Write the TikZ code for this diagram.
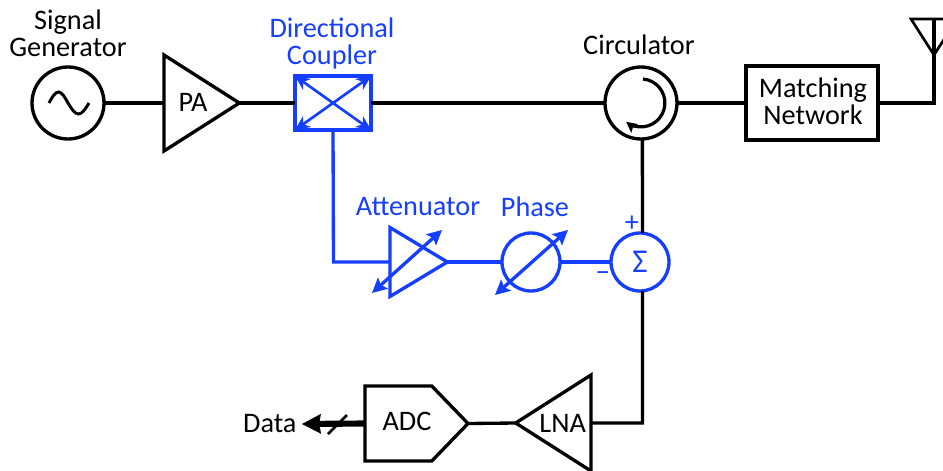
\documentclass[tikz,border=0pt]{standalone}
\usepackage{fontspec}
\setmainfont{Carlito}
\usepackage{tikz}
\usetikzlibrary{arrows.meta,shapes.geometric,shapes.symbols}
\definecolor{rfblue}{RGB}{22,62,255}
\begin{document}
\begin{tikzpicture}[x=0.75pt, y=-0.75pt,
    every node/.style={font=\fontsize{21.2}{20.2}\selectfont, align=center, inner sep=0pt, outer sep=0pt},
    wire/.style={line width=2.5pt},
    bwire/.style={wire, rfblue},
    lab/.style={text=black},
    blab/.style={text=rfblue},
    box/.style={draw, line width=2.5pt, rectangle},
    disc/.style={draw, line width=2.5pt, circle},
    amp/.style={draw, line width=2.5pt, isosceles triangle, isosceles triangle stretches, minimum width=72pt, minimum height=56.5pt},
    tune/.style={line width=2.5pt, rfblue, {Stealth[length=11pt,width=11pt,inset=2pt]}-{Stealth[length=11pt,width=11pt,inset=2pt]}},
    cross/.style={line width=2pt, rfblue, {Stealth[length=11pt,width=10pt,inset=3.5pt]}-{Stealth[length=11pt,width=10pt,inset=3.5pt]}}]
  \useasboundingbox (0,0) rectangle (943,471);
  \clip (0,0) rectangle (943,471);
  % top row
  \node[disc, minimum size=54pt] (osc) at (68,103) {};
  \draw[line width=2.2pt] (49,103) sin (58.5,92) cos (68,103) sin (78.5,114) cos (89,103);
  \node[amp, anchor=lower side, shape border rotate=0] (pa) at (164,103) {};
  \node[box, draw=rfblue, line width=2.6pt, minimum width=57pt, minimum height=40.5pt] (coupler) at (333,103) {};
  \node[disc, minimum size=54pt] (circ) at (641,103) {};
  \node[box, minimum width=99pt, minimum height=55.5pt] (match) at (812,103) {};
  \draw[wire] (osc.east) -- (pa.lower side);
  \draw[wire] (pa.apex) -- (coupler.west);
  \draw[wire] (coupler.east) -- (circ.west);
  \draw[wire] (circ.east) -- (match.west);
  \foreach \a/\b in {north west/south east, north east/south west}
    \draw[cross] (coupler.\a) -- (coupler.\b);
  \draw[line width=2.4pt, -{Stealth[length=8pt,width=8pt,inset=1.5pt]}] (643,79) arc[start angle=-85, end angle=128, radius=24];
  % antenna
  \coordinate (antfoot) at (934,103);
  \coordinate (anttop) at (934,19);
  \coordinate (antleft) at (911,19);
  \coordinate (antright) at (957,19);
  \coordinate (anttip) at (934,55);
  \draw[wire, line join=miter] (match.east) -- (antfoot) -- (anttop);
  \draw[line width=2pt] (antleft) -- (antright) -- (anttip) -- cycle;
  % cancellation path
  \node[amp, draw=rfblue, minimum width=51.75pt, minimum height=43pt, anchor=lower side, shape border rotate=0] (atten) at (390,262) {};
  \node[disc, draw=rfblue, minimum size=43.5pt] (phase) at (531,262) {};
  \node[disc, draw=rfblue, minimum size=43.5pt, text=rfblue, font=\fontsize{25}{25}\selectfont] (sum) at (640,262) {Σ};
  \coordinate (bend) at (333.5,262);
  \draw[bwire] (coupler.south) -- (bend) -- (atten.lower side);
  \draw[bwire] (atten.apex) -- (phase.west);
  \draw[bwire] (phase.east) -- (sum.west);
  \coordinate (atta) at (372,293);
  \coordinate (attb) at (442,230);
  \coordinate (pha) at (495,295);
  \coordinate (phb) at (568,230);
  \draw[tune] (atta) -- (attb);
  \draw[tune] (pha) -- (phb);
  % receive path
  \node[amp, anchor=lower side, shape border rotate=180] (lna) at (591,423) {LNA};
  \node[draw, line width=2.5pt, signal, signal to=east, signal from=nowhere, signal pointer angle=92, minimum width=77.25pt, minimum height=56.25pt, anchor=west] (adc) at (365,423.5) {};
  \coordinate (corner) at (642.5,423);
  \draw[wire] ([xshift=1pt]circ.south) -- ([xshift=1.9pt]sum.north);
  \draw[wire] ([xshift=1.9pt]sum.south) -- (corner) -- (lna.lower side);
  \draw[wire] (lna.apex) -- (adc.east);
  \node[lab, anchor=east] (data) at (296.5,424) {Data};
  \draw[line width=4.6pt, -{Stealth[length=14pt,width=14pt,inset=1pt]}] (adc.west) -- ([xshift=4pt]data.east);
  \coordinate (slasha) at (328,434);
  \coordinate (slashb) at (347,415);
  \draw[line width=2pt] (slasha) -- (slashb);
  % labels
  \node[lab] (siggen) at (68,33) {Signal\\Generator};
  \node[lab] (palab) at (193,102) {PA};
  \node[lab] (adclab) at (407,421) {ADC};
  \node[lab] (matchlab) at (813,101) {Matching\\Network};
  \node[blab] (couplab) at (332,43) {Directional\\Coupler};
  \node[lab] (circlab) at (639,45) {Circulator};
  \node[blab] (attlab) at (418,207) {Attenuator};
  \node[blab] (phlab) at (535,207) {Phase};
  \node[blab] (plus) at (632,224) {+};
  \node[blab] (minus) at (603,277) {−};
\end{tikzpicture}
\end{document}
